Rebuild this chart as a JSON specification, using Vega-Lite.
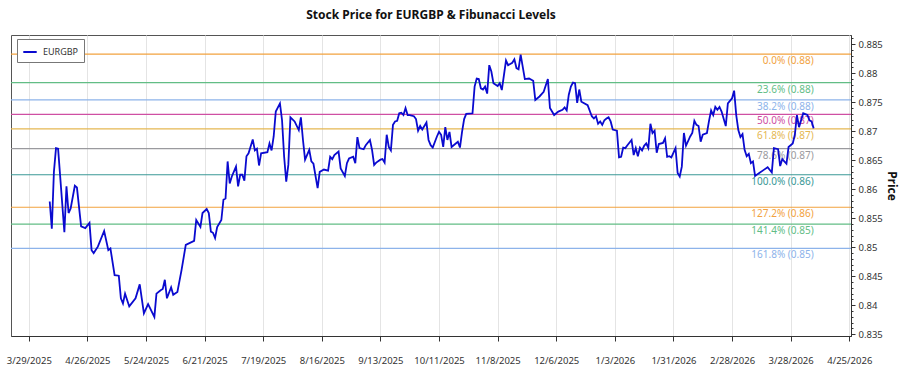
{
  "$schema": "https://vega.github.io/schema/vega-lite/v6.json",
  "autosize": "none",
  "width": 840,
  "height": 301,
  "padding": {"left": 11, "top": 35, "right": 49, "bottom": 39},
  "background": "white",
  "title": {"text": "Stock Price for EURGBP & Fibunacci Levels", "fontSize": 12, "fontWeight": "bold", "font": "Noto Sans", "color": "#111", "anchor": "middle", "offset": 13},
  "config": {
    "view": {"stroke": "#555", "strokeWidth": 1},
    "font": "Noto Sans",
    "axis": {"labelFont": "Noto Sans", "titleFont": "Noto Sans"}
  },
  "datasets": {
    "fib": [
      {"level": "0.0%", "price": 0.8833, "label": "0.0% (0.88)"},
      {"level": "23.6%", "price": 0.8784, "label": "23.6% (0.88)"},
      {"level": "38.2%", "price": 0.8754, "label": "38.2% (0.88)"},
      {"level": "50.0%", "price": 0.8729, "label": "50.0% (0.87)"},
      {"level": "61.8%", "price": 0.8704, "label": "61.8% (0.87)"},
      {"level": "78.6%", "price": 0.8670, "label": "78.6% (0.87)"},
      {"level": "100.0%", "price": 0.8625, "label": "100.0% (0.86)"},
      {"level": "127.2%", "price": 0.8569, "label": "127.2% (0.86)"},
      {"level": "141.4%", "price": 0.8540, "label": "141.4% (0.85)"},
      {"level": "161.8%", "price": 0.8498, "label": "161.8% (0.85)"}
    ],
    "px": [
      {"date": "2025-04-08", "price": 0.8579},
      {"date": "2025-04-09", "price": 0.8532},
      {"date": "2025-04-10", "price": 0.8630},
      {"date": "2025-04-11", "price": 0.8671},
      {"date": "2025-04-12", "price": 0.8670},
      {"date": "2025-04-15", "price": 0.8526},
      {"date": "2025-04-16", "price": 0.8605},
      {"date": "2025-04-17", "price": 0.8559},
      {"date": "2025-04-18", "price": 0.8567},
      {"date": "2025-04-20", "price": 0.8606},
      {"date": "2025-04-21", "price": 0.8603},
      {"date": "2025-04-23", "price": 0.8536},
      {"date": "2025-04-25", "price": 0.8533},
      {"date": "2025-04-27", "price": 0.8542},
      {"date": "2025-04-28", "price": 0.8495},
      {"date": "2025-04-29", "price": 0.8490},
      {"date": "2025-05-01", "price": 0.8501},
      {"date": "2025-05-04", "price": 0.8528},
      {"date": "2025-05-06", "price": 0.8495},
      {"date": "2025-05-07", "price": 0.8498},
      {"date": "2025-05-09", "price": 0.8452},
      {"date": "2025-05-11", "price": 0.8451},
      {"date": "2025-05-12", "price": 0.8412},
      {"date": "2025-05-13", "price": 0.8403},
      {"date": "2025-05-14", "price": 0.8420},
      {"date": "2025-05-16", "price": 0.8398},
      {"date": "2025-05-19", "price": 0.8412},
      {"date": "2025-05-21", "price": 0.8436},
      {"date": "2025-05-23", "price": 0.8386},
      {"date": "2025-05-25", "price": 0.8402},
      {"date": "2025-05-28", "price": 0.8380},
      {"date": "2025-05-29", "price": 0.8420},
      {"date": "2025-05-31", "price": 0.8426},
      {"date": "2025-06-01", "price": 0.8428},
      {"date": "2025-06-02", "price": 0.8444},
      {"date": "2025-06-03", "price": 0.8412},
      {"date": "2025-06-05", "price": 0.8431},
      {"date": "2025-06-06", "price": 0.8418},
      {"date": "2025-06-08", "price": 0.8423},
      {"date": "2025-06-10", "price": 0.8461},
      {"date": "2025-06-12", "price": 0.8504},
      {"date": "2025-06-16", "price": 0.8511},
      {"date": "2025-06-17", "price": 0.8547},
      {"date": "2025-06-19", "price": 0.8535},
      {"date": "2025-06-20", "price": 0.8559},
      {"date": "2025-06-22", "price": 0.8566},
      {"date": "2025-06-23", "price": 0.8559},
      {"date": "2025-06-24", "price": 0.8527},
      {"date": "2025-06-25", "price": 0.8525},
      {"date": "2025-06-26", "price": 0.8516},
      {"date": "2025-06-27", "price": 0.8535},
      {"date": "2025-06-29", "price": 0.8547},
      {"date": "2025-06-30", "price": 0.8582},
      {"date": "2025-07-01", "price": 0.8584},
      {"date": "2025-07-02", "price": 0.8648},
      {"date": "2025-07-03", "price": 0.8610},
      {"date": "2025-07-04", "price": 0.8622},
      {"date": "2025-07-06", "price": 0.8639},
      {"date": "2025-07-07", "price": 0.8605},
      {"date": "2025-07-08", "price": 0.8625},
      {"date": "2025-07-09", "price": 0.8625},
      {"date": "2025-07-10", "price": 0.8615},
      {"date": "2025-07-11", "price": 0.8657},
      {"date": "2025-07-12", "price": 0.8662},
      {"date": "2025-07-14", "price": 0.8686},
      {"date": "2025-07-15", "price": 0.8667},
      {"date": "2025-07-16", "price": 0.8670},
      {"date": "2025-07-17", "price": 0.8641},
      {"date": "2025-07-18", "price": 0.8662},
      {"date": "2025-07-21", "price": 0.8664},
      {"date": "2025-07-22", "price": 0.8679},
      {"date": "2025-07-23", "price": 0.8667},
      {"date": "2025-07-24", "price": 0.8691},
      {"date": "2025-07-25", "price": 0.8734},
      {"date": "2025-07-27", "price": 0.8748},
      {"date": "2025-07-28", "price": 0.8719},
      {"date": "2025-07-29", "price": 0.8656},
      {"date": "2025-07-30", "price": 0.8613},
      {"date": "2025-07-31", "price": 0.8642},
      {"date": "2025-08-01", "price": 0.8724},
      {"date": "2025-08-03", "price": 0.8717},
      {"date": "2025-08-05", "price": 0.8702},
      {"date": "2025-08-06", "price": 0.8724},
      {"date": "2025-08-07", "price": 0.8685},
      {"date": "2025-08-08", "price": 0.8651},
      {"date": "2025-08-10", "price": 0.8668},
      {"date": "2025-08-11", "price": 0.8648},
      {"date": "2025-08-12", "price": 0.8644},
      {"date": "2025-08-14", "price": 0.8602},
      {"date": "2025-08-15", "price": 0.8630},
      {"date": "2025-08-17", "price": 0.8634},
      {"date": "2025-08-19", "price": 0.8632},
      {"date": "2025-08-20", "price": 0.8656},
      {"date": "2025-08-21", "price": 0.8652},
      {"date": "2025-08-22", "price": 0.8659},
      {"date": "2025-08-24", "price": 0.8665},
      {"date": "2025-08-25", "price": 0.8636},
      {"date": "2025-08-27", "price": 0.8623},
      {"date": "2025-08-28", "price": 0.8645},
      {"date": "2025-08-29", "price": 0.8653},
      {"date": "2025-08-31", "price": 0.8656},
      {"date": "2025-09-01", "price": 0.8645},
      {"date": "2025-09-02", "price": 0.8690},
      {"date": "2025-09-03", "price": 0.8671},
      {"date": "2025-09-05", "price": 0.8669},
      {"date": "2025-09-06", "price": 0.8676},
      {"date": "2025-09-08", "price": 0.8685},
      {"date": "2025-09-09", "price": 0.8668},
      {"date": "2025-09-10", "price": 0.8642},
      {"date": "2025-09-11", "price": 0.8646},
      {"date": "2025-09-13", "price": 0.8651},
      {"date": "2025-09-14", "price": 0.8652},
      {"date": "2025-09-15", "price": 0.8646},
      {"date": "2025-09-16", "price": 0.8694},
      {"date": "2025-09-17", "price": 0.8673},
      {"date": "2025-09-18", "price": 0.8667},
      {"date": "2025-09-19", "price": 0.8711},
      {"date": "2025-09-20", "price": 0.8717},
      {"date": "2025-09-21", "price": 0.8718},
      {"date": "2025-09-22", "price": 0.8731},
      {"date": "2025-09-23", "price": 0.8732},
      {"date": "2025-09-24", "price": 0.8728},
      {"date": "2025-09-25", "price": 0.8740},
      {"date": "2025-09-26", "price": 0.8728},
      {"date": "2025-09-27", "price": 0.8728},
      {"date": "2025-09-29", "price": 0.8726},
      {"date": "2025-09-30", "price": 0.8721},
      {"date": "2025-10-01", "price": 0.8701},
      {"date": "2025-10-02", "price": 0.8709},
      {"date": "2025-10-03", "price": 0.8703},
      {"date": "2025-10-05", "price": 0.8715},
      {"date": "2025-10-06", "price": 0.8685},
      {"date": "2025-10-07", "price": 0.8676},
      {"date": "2025-10-08", "price": 0.8672},
      {"date": "2025-10-10", "price": 0.8691},
      {"date": "2025-10-11", "price": 0.8699},
      {"date": "2025-10-12", "price": 0.8694},
      {"date": "2025-10-13", "price": 0.8673},
      {"date": "2025-10-14", "price": 0.8707},
      {"date": "2025-10-15", "price": 0.8685},
      {"date": "2025-10-16", "price": 0.8699},
      {"date": "2025-10-17", "price": 0.8673},
      {"date": "2025-10-19", "price": 0.8679},
      {"date": "2025-10-20", "price": 0.8682},
      {"date": "2025-10-21", "price": 0.8672},
      {"date": "2025-10-22", "price": 0.8699},
      {"date": "2025-10-23", "price": 0.8721},
      {"date": "2025-10-24", "price": 0.8730},
      {"date": "2025-10-27", "price": 0.8731},
      {"date": "2025-10-28", "price": 0.8777},
      {"date": "2025-10-29", "price": 0.8791},
      {"date": "2025-10-30", "price": 0.8790},
      {"date": "2025-10-31", "price": 0.8774},
      {"date": "2025-11-01", "price": 0.8772},
      {"date": "2025-11-02", "price": 0.8777},
      {"date": "2025-11-03", "price": 0.8765},
      {"date": "2025-11-04", "price": 0.8814},
      {"date": "2025-11-05", "price": 0.8803},
      {"date": "2025-11-06", "price": 0.8783},
      {"date": "2025-11-08", "price": 0.8778},
      {"date": "2025-11-09", "price": 0.8783},
      {"date": "2025-11-10", "price": 0.8771},
      {"date": "2025-11-12", "price": 0.8822},
      {"date": "2025-11-13", "price": 0.8814},
      {"date": "2025-11-15", "price": 0.8818},
      {"date": "2025-11-16", "price": 0.8824},
      {"date": "2025-11-17", "price": 0.8809},
      {"date": "2025-11-18", "price": 0.8807},
      {"date": "2025-11-19", "price": 0.8832},
      {"date": "2025-11-20", "price": 0.8811},
      {"date": "2025-11-21", "price": 0.8790},
      {"date": "2025-11-23", "price": 0.8791},
      {"date": "2025-11-25", "price": 0.8787},
      {"date": "2025-11-26", "price": 0.8754},
      {"date": "2025-11-28", "price": 0.8760},
      {"date": "2025-11-30", "price": 0.8768},
      {"date": "2025-12-02", "price": 0.8790},
      {"date": "2025-12-03", "price": 0.8740},
      {"date": "2025-12-05", "price": 0.8728},
      {"date": "2025-12-07", "price": 0.8734},
      {"date": "2025-12-09", "price": 0.8737},
      {"date": "2025-12-10", "price": 0.8741},
      {"date": "2025-12-11", "price": 0.8736},
      {"date": "2025-12-12", "price": 0.8763},
      {"date": "2025-12-13", "price": 0.8777},
      {"date": "2025-12-14", "price": 0.8784},
      {"date": "2025-12-15", "price": 0.8783},
      {"date": "2025-12-16", "price": 0.8749},
      {"date": "2025-12-17", "price": 0.8772},
      {"date": "2025-12-18", "price": 0.8751},
      {"date": "2025-12-21", "price": 0.8745},
      {"date": "2025-12-23", "price": 0.8726},
      {"date": "2025-12-24", "price": 0.8722},
      {"date": "2025-12-25", "price": 0.8726},
      {"date": "2025-12-26", "price": 0.8713},
      {"date": "2025-12-27", "price": 0.8717},
      {"date": "2025-12-28", "price": 0.8711},
      {"date": "2025-12-29", "price": 0.8719},
      {"date": "2025-12-30", "price": 0.8722},
      {"date": "2025-12-31", "price": 0.8724},
      {"date": "2026-01-01", "price": 0.8717},
      {"date": "2026-01-02", "price": 0.8703},
      {"date": "2026-01-04", "price": 0.8701},
      {"date": "2026-01-05", "price": 0.8655},
      {"date": "2026-01-06", "price": 0.8656},
      {"date": "2026-01-07", "price": 0.8672},
      {"date": "2026-01-08", "price": 0.8671},
      {"date": "2026-01-09", "price": 0.8676},
      {"date": "2026-01-11", "price": 0.8685},
      {"date": "2026-01-12", "price": 0.8659},
      {"date": "2026-01-13", "price": 0.8671},
      {"date": "2026-01-14", "price": 0.8657},
      {"date": "2026-01-15", "price": 0.8672},
      {"date": "2026-01-16", "price": 0.8667},
      {"date": "2026-01-17", "price": 0.8675},
      {"date": "2026-01-18", "price": 0.8679},
      {"date": "2026-01-19", "price": 0.8671},
      {"date": "2026-01-20", "price": 0.8713},
      {"date": "2026-01-21", "price": 0.8697},
      {"date": "2026-01-22", "price": 0.8701},
      {"date": "2026-01-23", "price": 0.8663},
      {"date": "2026-01-24", "price": 0.8678},
      {"date": "2026-01-26", "price": 0.8680},
      {"date": "2026-01-27", "price": 0.8688},
      {"date": "2026-01-28", "price": 0.8656},
      {"date": "2026-01-29", "price": 0.8657},
      {"date": "2026-01-30", "price": 0.8655},
      {"date": "2026-02-01", "price": 0.8671},
      {"date": "2026-02-02", "price": 0.8628},
      {"date": "2026-02-03", "price": 0.8622},
      {"date": "2026-02-04", "price": 0.8639},
      {"date": "2026-02-05", "price": 0.8697},
      {"date": "2026-02-06", "price": 0.8675},
      {"date": "2026-02-08", "price": 0.8691},
      {"date": "2026-02-09", "price": 0.8697},
      {"date": "2026-02-10", "price": 0.8718},
      {"date": "2026-02-11", "price": 0.8711},
      {"date": "2026-02-12", "price": 0.8709},
      {"date": "2026-02-13", "price": 0.8682},
      {"date": "2026-02-14", "price": 0.8694},
      {"date": "2026-02-16", "price": 0.8697},
      {"date": "2026-02-17", "price": 0.8718},
      {"date": "2026-02-18", "price": 0.8736},
      {"date": "2026-02-19", "price": 0.8728},
      {"date": "2026-02-20", "price": 0.8742},
      {"date": "2026-02-21", "price": 0.8737},
      {"date": "2026-02-22", "price": 0.8742},
      {"date": "2026-02-23", "price": 0.8734},
      {"date": "2026-02-25", "price": 0.8709},
      {"date": "2026-02-26", "price": 0.8748},
      {"date": "2026-02-28", "price": 0.8757},
      {"date": "2026-03-01", "price": 0.8770},
      {"date": "2026-03-02", "price": 0.8728},
      {"date": "2026-03-03", "price": 0.8702},
      {"date": "2026-03-04", "price": 0.8690},
      {"date": "2026-03-05", "price": 0.8695},
      {"date": "2026-03-06", "price": 0.8668},
      {"date": "2026-03-07", "price": 0.8657},
      {"date": "2026-03-08", "price": 0.8661},
      {"date": "2026-03-09", "price": 0.8645},
      {"date": "2026-03-10", "price": 0.8648},
      {"date": "2026-03-11", "price": 0.8623},
      {"date": "2026-03-13", "price": 0.8628},
      {"date": "2026-03-15", "price": 0.8633},
      {"date": "2026-03-17", "price": 0.8638},
      {"date": "2026-03-19", "price": 0.8629},
      {"date": "2026-03-20", "price": 0.8671},
      {"date": "2026-03-22", "price": 0.8669},
      {"date": "2026-03-23", "price": 0.8640},
      {"date": "2026-03-24", "price": 0.8652},
      {"date": "2026-03-26", "price": 0.8644},
      {"date": "2026-03-27", "price": 0.8673},
      {"date": "2026-03-29", "price": 0.8679},
      {"date": "2026-03-30", "price": 0.8694},
      {"date": "2026-03-31", "price": 0.8728},
      {"date": "2026-04-01", "price": 0.8707},
      {"date": "2026-04-02", "price": 0.8719},
      {"date": "2026-04-03", "price": 0.8731},
      {"date": "2026-04-05", "price": 0.8728},
      {"date": "2026-04-06", "price": 0.8719},
      {"date": "2026-04-07", "price": 0.8717},
      {"date": "2026-04-08", "price": 0.8705}
    ]
  },
  "resolve": {"scale": {"color": "independent"}, "axis": {"y": "independent"}},
  "layer": [
    {
      "data": {"name": "fib"},
      "mark": {"type": "rule", "strokeWidth": 1.2},
      "encoding": {
        "y": {"field": "price", "type": "quantitative",
              "scale": {"domain": [0.8347, 0.8866], "zero": false, "nice": false},
              "axis": {"orient": "right", "values": [0.835,0.836,0.837,0.838,0.839,0.84,0.841,0.842,0.843,0.844,0.845,0.846,0.847,0.848,0.849,0.85,0.851,0.852,0.853,0.854,0.855,0.856,0.857,0.858,0.859,0.86,0.861,0.862,0.863,0.864,0.865,0.866,0.867,0.868,0.869,0.87,0.871,0.872,0.873,0.874,0.875,0.876,0.877,0.878,0.879,0.88,0.881,0.882,0.883,0.884,0.885,0.886],
                       "labels": false, "domain": false, "grid": false, "ticks": true, "tickSize": 2, "tickColor": "#333", "title": null}},
        "color": {"field": "label", "type": "nominal", "legend": null,
                  "scale": {"domain": ["0.0% (0.88)","23.6% (0.88)","38.2% (0.88)","50.0% (0.87)","61.8% (0.87)","78.6% (0.87)","100.0% (0.86)","127.2% (0.86)","141.4% (0.85)","161.8% (0.85)"],
                            "range": ["#F2A23E","#62BD85","#8DB3EA","#CF4FA3","#E5B752","#9A9A9E","#3A9896","#F2A23E","#62BD85","#8DB3EA"]}}
      }
    },
    {
      "data": {"name": "fib"},
      "mark": {"type": "text", "align": "right", "baseline": "top", "dy": 2, "fontSize": 10, "font": "Noto Sans"},
      "encoding": {
        "x": {"datum": {"year": 2026, "month": 4, "date": 8, "utc": true}, "type": "temporal",
              "scale": {"type": "utc", "domain": [{"year": 2025, "month": 3, "date": 20, "hours": 12, "utc": true}, {"year": 2026, "month": 4, "date": 25, "hours": 20, "utc": true}]},
              "axis": {"values": [{"year":2025,"month":3,"date":29,"utc":true},{"year":2025,"month":4,"date":26,"utc":true},{"year":2025,"month":5,"date":24,"utc":true},{"year":2025,"month":6,"date":21,"utc":true},{"year":2025,"month":7,"date":19,"utc":true},{"year":2025,"month":8,"date":16,"utc":true},{"year":2025,"month":9,"date":13,"utc":true},{"year":2025,"month":10,"date":11,"utc":true},{"year":2025,"month":11,"date":8,"utc":true},{"year":2025,"month":12,"date":6,"utc":true},{"year":2026,"month":1,"date":3,"utc":true},{"year":2026,"month":1,"date":31,"utc":true},{"year":2026,"month":2,"date":28,"utc":true},{"year":2026,"month":3,"date":28,"utc":true},{"year":2026,"month":4,"date":25,"utc":true}],
                       "format": "%-m/%-d/%Y", "title": null, "grid": true, "gridColor": "#e4e4e4", "tickSize": 5, "tickColor": "#333", "domainColor": "#333", "labelPadding": 14, "labelFontSize": 9.5, "labelColor": "#333", "labelFlush": false, "labelOverlap": false}},
        "y": {"field": "price", "type": "quantitative", "scale": {"domain": [0.8347, 0.8866], "zero": false, "nice": false}, "axis": null},
        "text": {"field": "label"},
        "color": {"field": "label", "type": "nominal", "legend": null,
                  "scale": {"domain": ["0.0% (0.88)","23.6% (0.88)","38.2% (0.88)","50.0% (0.87)","61.8% (0.87)","78.6% (0.87)","100.0% (0.86)","127.2% (0.86)","141.4% (0.85)","161.8% (0.85)"],
                            "range": ["#F2A23E","#62BD85","#8DB3EA","#CF4FA3","#E5B752","#9A9A9E","#3A9896","#F2A23E","#62BD85","#8DB3EA"]}}
      }
    },
    {
      "data": {"name": "px"},
      "mark": {"type": "line", "strokeWidth": 1.8},
      "encoding": {
        "x": {"field": "date", "type": "temporal",
              "scale": {"type": "utc", "domain": [{"year": 2025, "month": 3, "date": 20, "hours": 12, "utc": true}, {"year": 2026, "month": 4, "date": 25, "hours": 20, "utc": true}]},
              "axis": {"values": [{"year":2025,"month":3,"date":29,"utc":true},{"year":2025,"month":4,"date":26,"utc":true},{"year":2025,"month":5,"date":24,"utc":true},{"year":2025,"month":6,"date":21,"utc":true},{"year":2025,"month":7,"date":19,"utc":true},{"year":2025,"month":8,"date":16,"utc":true},{"year":2025,"month":9,"date":13,"utc":true},{"year":2025,"month":10,"date":11,"utc":true},{"year":2025,"month":11,"date":8,"utc":true},{"year":2025,"month":12,"date":6,"utc":true},{"year":2026,"month":1,"date":3,"utc":true},{"year":2026,"month":1,"date":31,"utc":true},{"year":2026,"month":2,"date":28,"utc":true},{"year":2026,"month":3,"date":28,"utc":true},{"year":2026,"month":4,"date":25,"utc":true}],
                       "format": "%-m/%-d/%Y", "title": null, "grid": true, "gridColor": "#e4e4e4", "tickSize": 5, "tickColor": "#333", "domainColor": "#333", "labelPadding": 14, "labelFontSize": 9.5, "labelColor": "#333", "labelFlush": false, "labelOverlap": false}},
        "y": {"field": "price", "type": "quantitative",
              "scale": {"domain": [0.8347, 0.8866], "zero": false, "nice": false},
              "axis": {"orient": "right", "values": [0.835,0.84,0.845,0.85,0.855,0.86,0.865,0.87,0.875,0.88,0.885], "format": ".3~f",
                       "title": "Price", "titleFontSize": 12, "titleFontWeight": "bold", "titleColor": "#111", "titlePadding": 2,
                       "grid": false, "tickSize": 4, "tickColor": "#333", "domainColor": "#333", "labelFontSize": 9.5, "labelColor": "#333", "labelPadding": 3}},
        "color": {"datum": "EURGBP", "type": "nominal",
                  "scale": {"domain": ["EURGBP"], "range": ["#0A0ACF"]},
                  "legend": {"title": null, "orient": "none", "legendX": 6, "legendY": 4, "symbolType": "stroke", "symbolSize": 180, "symbolStrokeWidth": 2,
                             "labelFontSize": 9, "labelColor": "#333", "labelOffset": 5, "padding": 5, "strokeColor": "#777", "fillColor": "white"}}
      }
    }
  ]
}
